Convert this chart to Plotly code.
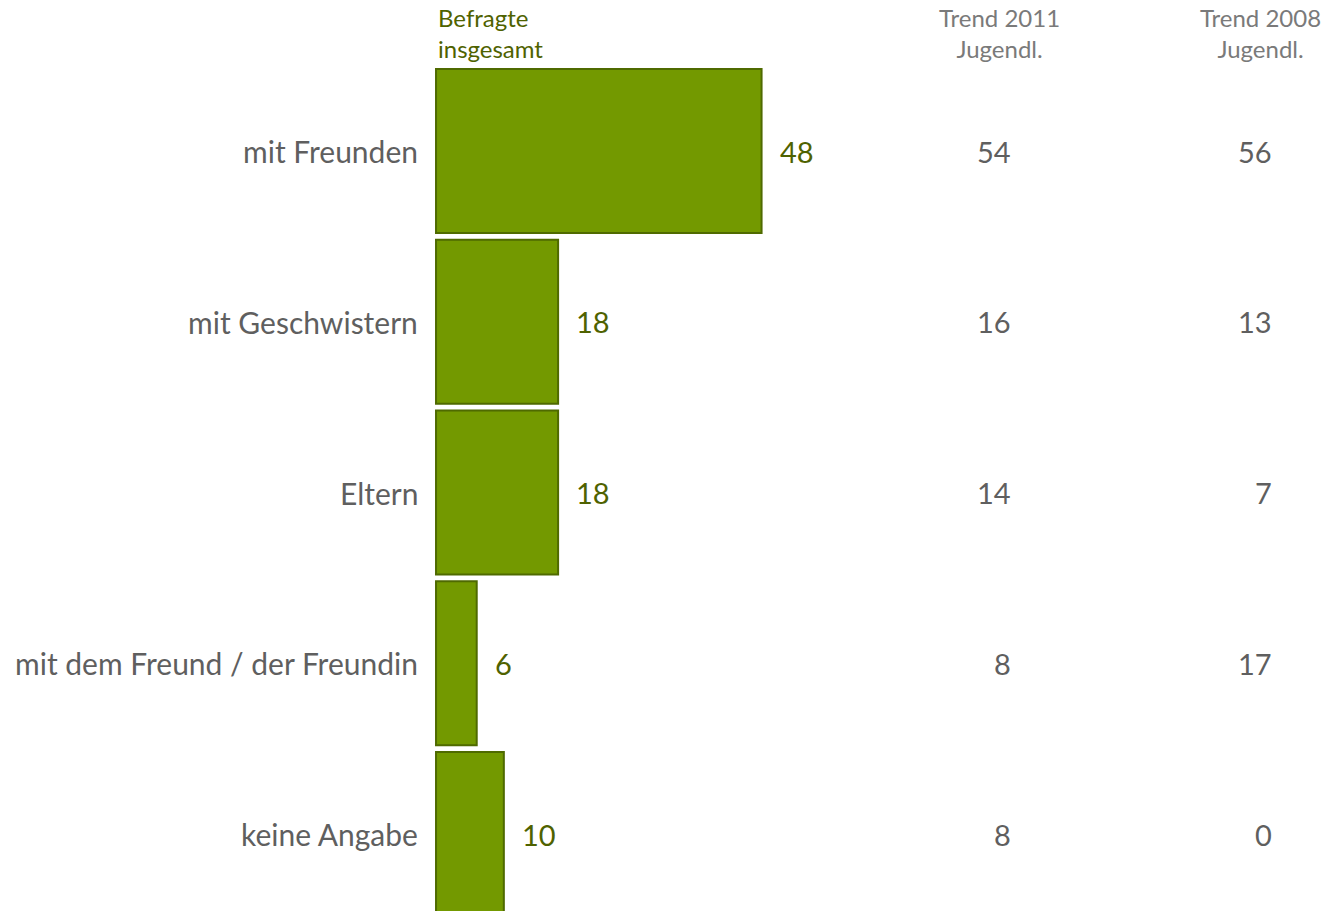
import plotly.graph_objects as go

categories = ["mit Freunden", "mit Geschwistern", "Eltern",
              "mit dem Freund / der Freundin", "keine Angabe"]
befragte = [48, 18, 18, 6, 10]
trend_2011 = [54, 16, 14, 8, 8]
trend_2008 = [56, 13, 7, 17, 0]
headers = {
    "befragte": "Befragte<br>insgesamt",
    "t2011": "Trend 2011<br>Jugendl.",
    "t2008": "Trend 2008<br>Jugendl.",
}

W, H = 1326, 911
LEFT = 435
FONT = "Lato, 'Open Sans', sans-serif"
GREEN = "#739900"
EDGE = "#4f6a00"
OLIVE = "#4f6200"
GRAY = "#5f5f5f"
LIGHT = "#7a7a7a"


def px_x(p):
    # convert a page pixel column to paper coordinates of the plot area
    return (p - LEFT) / (W - LEFT)


pos = list(range(len(categories)))

fig = go.Figure(go.Bar(
    x=befragte, y=pos, orientation="h",
    width=0.96,
    marker=dict(color=GREEN, line=dict(color=EDGE, width=2)),
    hoverinfo="skip",
))

ann = []
for i, (c, v, a, b) in enumerate(zip(categories, befragte, trend_2011, trend_2008)):
    ann.append(dict(x=0, y=i, xref="x", yref="y", text=c, showarrow=False,
                    xanchor="right", xshift=-16, font=dict(size=30, color=GRAY)))
    ann.append(dict(x=v, y=i, xref="x", yref="y", text=str(v), showarrow=False,
                    xanchor="left", xshift=16, font=dict(size=29, color=OLIVE)))
    ann.append(dict(x=px_x(1013), y=i, xref="paper", yref="y", text=str(a), showarrow=False,
                    xanchor="right", font=dict(size=29, color=GRAY)))
    ann.append(dict(x=px_x(1274), y=i, xref="paper", yref="y", text=str(b), showarrow=False,
                    xanchor="right", font=dict(size=29, color=GRAY)))

ann.append(dict(x=px_x(436), y=1 - 1 / H, xref="paper", yref="paper", text=headers["befragte"],
                showarrow=False, xanchor="left", yanchor="top", align="left",
                font=dict(size=24, color=OLIVE)))
ann.append(dict(x=px_x(999), y=1 - 1 / H, xref="paper", yref="paper", text=headers["t2011"],
                showarrow=False, xanchor="center", yanchor="top", align="center",
                font=dict(size=24, color=LIGHT)))
ann.append(dict(x=px_x(1260), y=1 - 1 / H, xref="paper", yref="paper", text=headers["t2008"],
                showarrow=False, xanchor="center", yanchor="top", align="center",
                font=dict(size=24, color=LIGHT)))

px_per_unit = 6.79
row = 170.75
top_center = 151
fig.update_layout(
    width=W, height=H,
    margin=dict(l=LEFT, r=0, t=0, b=0),
    paper_bgcolor="white", plot_bgcolor="white",
    font=dict(family=FONT),
    showlegend=False,
    xaxis=dict(range=[-0.15, (W - LEFT) / px_per_unit], visible=False, fixedrange=True),
    yaxis=dict(range=[(H - top_center) / row, -top_center / row], visible=False, fixedrange=True),
    annotations=ann,
)

fig.write_html("out.html")
